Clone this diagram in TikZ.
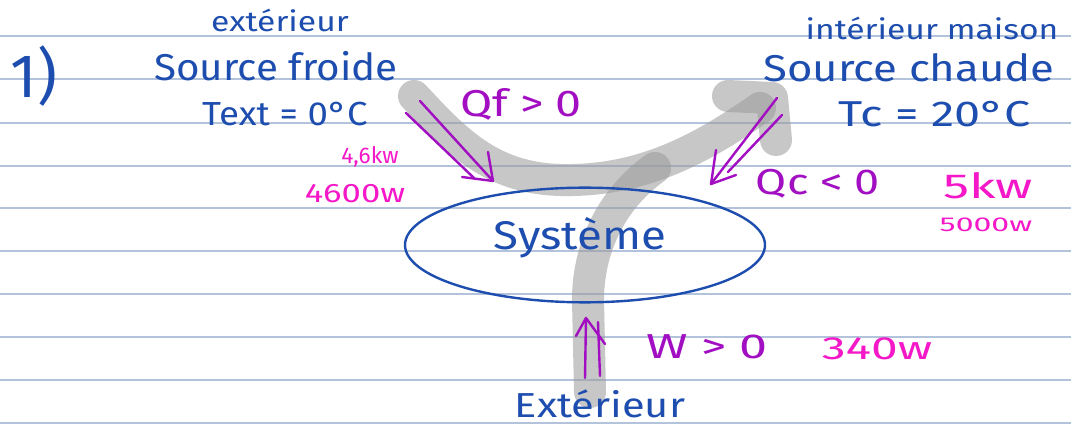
\documentclass[tikz,border=0pt]{standalone}
\usepackage{fontspec}
\usepackage{graphicx}
\setmainfont{Fira Sans}
\usetikzlibrary{shapes.geometric}
\definecolor{inkblue}{HTML}{1D4DAE}
\definecolor{inkviolet}{HTML}{A20EC2}
\definecolor{inkpink}{HTML}{F418C8}
\definecolor{ruled}{HTML}{B3C3DB}
\definecolor{marker}{HTML}{9A9A9A}
\newcommand\fsz[1]{\fontsize{#1}{#1}\selectfont}
% handwriting is wider than the type: stretch it horizontally
\newcommand\wide[2]{\scalebox{#1}[1]{#2}}
\begin{document}
\begin{tikzpicture}[x=0.75pt,y=-0.75pt,
  bluetext/.style={text=inkblue, inner sep=0pt},
  violettext/.style={text=inkviolet, inner sep=0pt},
  pinktext/.style={text=inkpink, inner sep=0pt},
  rule/.style={draw=ruled, line width=1.4pt},
  highlight/.style={draw=marker, line width=24pt, line cap=round, line join=round, opacity=0.55},
  pen/.style={draw=inkviolet, line width=1.8pt, line cap=round, line join=round}]
\useasboundingbox[fill=white] (0,0) rectangle (1071,427);

% ruled paper
\foreach \yy in {36,79,123,166,208,251,294,337,380,423}
  \draw[rule] (0,\yy) -- (1071,\yy);

% grey marker strokes
\draw[highlight] (414,96) .. controls (455,140) and (490,178) .. (560,180)
  .. controls (640,182) and (700,150) .. (760,108);
\draw[highlight] (728,96) -- (772,98) -- (776,140);
\draw[highlight] (655,168) .. controls (610,200) and (588,250) .. (588,300)
  -- (590,392);

% system
\node[draw=inkblue, line width=1.8pt, ellipse, minimum width=270pt, minimum height=86pt] (sys) at (585,245) {};
\node[bluetext, font=\fsz{30}] (systxt) at (580,238) {\wide{1.14}{Système}};

% heading
\node[bluetext, font=\fsz{46}] (num) at (34,76) {1)};

% cold source
\node[bluetext, font=\fsz{21}] (extlbl) at (280,20) {\wide{1.2}{extérieur}};
\node[bluetext, font=\fsz{28}] (froide) at (276,66) {\wide{1.08}{Source froide}};
\node[bluetext, font=\fsz{25}] (text) at (285,114) {\wide{1.1}{Text = 0°C}};
\node[pinktext, font=\fsz{17}] (pf1) at (370,157) {4,6kw};
\node[pinktext, font=\fsz{20}] (pf2) at (355,194) {\wide{1.3}{4600w}};
\node[violettext, font=\fsz{28}] (qf) at (521,104) {\wide{1.25}{Qf > 0}};

% hot source
\node[bluetext, font=\fsz{21}] (intlbl) at (932,28) {\wide{1.2}{intérieur maison}};
\node[bluetext, font=\fsz{28}] (chaude) at (909,68) {\wide{1.17}{Source chaude}};
\node[bluetext, font=\fsz{27}] (tc) at (935,114) {\wide{1.3}{Tc = 20°C}};
\node[violettext, font=\fsz{27}] (qc) at (818,184) {\wide{1.25}{Qc < 0}};
\node[pinktext, font=\fsz{26}] (pc1) at (988,186) {\wide{1.5}{5kw}};
\node[pinktext, font=\fsz{15}] (pc2) at (986,225) {\wide{1.6}{5000w}};

% work
\node[violettext, font=\fsz{26}] (w) at (707,347) {\wide{1.45}{W > 0}};
\node[pinktext, font=\fsz{24}] (pw) at (877,349) {\wide{1.5}{340w}};
\node[bluetext, font=\fsz{26}] (exterieur) at (600,404) {\wide{1.2}{Extérieur}};

% heat from the cold source
\coordinate (qfA0) at (420,101); \coordinate (qfA1) at (493,181);
\coordinate (qfB0) at (406,113); \coordinate (qfB1) at (474,178);
\coordinate (qfH1) at (488,152); \coordinate (qfH2) at (462,177);
\draw[pen] (qfA0) -- (qfA1);
\draw[pen] (qfB0) -- (qfB1);
\draw[pen] (qfH1) -- (qfA1) -- (qfH2);

% heat to the hot source
\coordinate (qcA0) at (777,98); \coordinate (qcA1) at (711,184);
\coordinate (qcB0) at (782,115); \coordinate (qcB1) at (728,172);
\coordinate (qcH1) at (716,150); \coordinate (qcH2) at (736,175);
\draw[pen] (qcA0) -- (qcA1);
\draw[pen] (qcB0) -- (qcB1);
\draw[pen] (qcH1) -- (qcA1) -- (qcH2);

% work received
\coordinate (wA0) at (585,378); \coordinate (wA1) at (586,318);
\coordinate (wB0) at (600,376); \coordinate (wB1) at (598,322);
\coordinate (wH1) at (576,336); \coordinate (wH2) at (605,344);
\draw[pen] (wA0) -- (wA1);
\draw[pen] (wB0) -- (wB1);
\draw[pen] (wH1) -- (wA1) -- (wH2);
\end{tikzpicture}
\end{document}
